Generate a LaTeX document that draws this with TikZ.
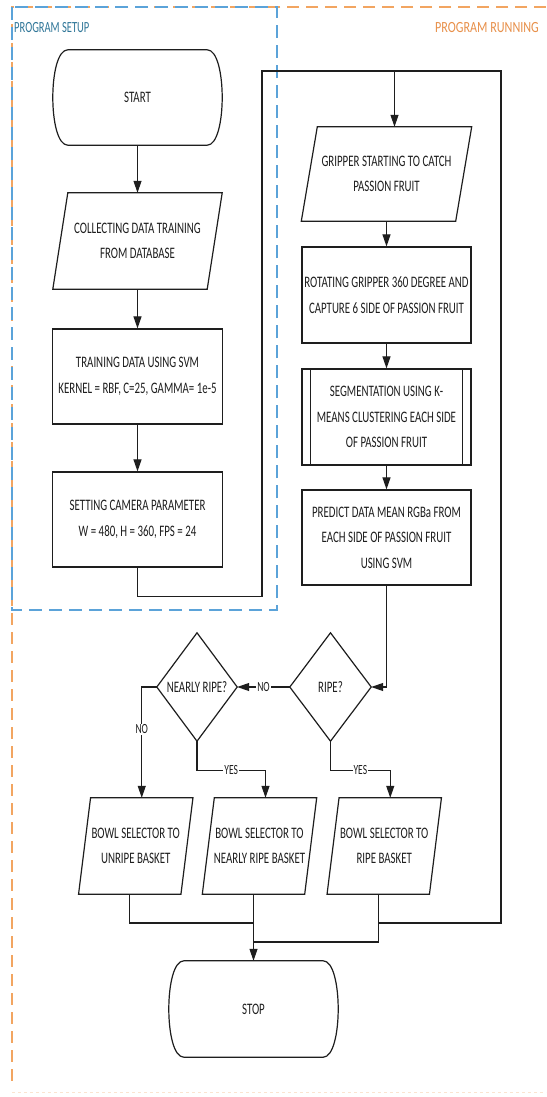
\documentclass[tikz,border=0pt]{standalone}
\usepackage{fontspec}
\setmainfont{Carlito}[FakeStretch=0.68]
\usetikzlibrary{arrows.meta}
\definecolor{setupblue}{HTML}{5BA3D9}
\definecolor{runorange}{HTML}{F2A561}
\definecolor{setuptext}{HTML}{2F7698}
\definecolor{runtext}{HTML}{E8904A}
\definecolor{ink}{HTML}{1E1E1E}
\newcommand\boxfont{\fontsize{16}{25.5}\selectfont}
\newcommand\lblfont{\fontsize{14}{15}\selectfont}
\newcommand\titlefont{\fontsize{15.5}{16}\selectfont}
\newcommand\paradraw[2]{\draw[shapeline] ([xshift=#2]#1.north west) -- ([xshift=#2]#1.north east) -- ([xshift=-#2]#1.south east) -- ([xshift=-#2]#1.south west) -- cycle;}
\newcommand\termdraw[1]{\draw[shapeline] (#1.north west) -- (#1.north east) .. controls +(20,0) and +(20,0) .. (#1.south east) -- (#1.south west) .. controls +(-20,0) and +(-20,0) .. (#1.north west) -- cycle;}
\newcommand\diamdraw[1]{\draw[shapeline] (#1.north) -- (#1.east) -- (#1.south) -- (#1.west) -- cycle;}
\tikzset{
  shapeline/.style={draw=ink, line width=1.2pt, line join=miter},
  ghost/.style={rectangle, inner sep=0pt, align=center, font=\boxfont, text=ink},
  box/.style={ghost, draw=ink, line width=1.2pt},
  flow/.style={draw=ink, line width=1.1pt},
  arrow/.style={flow, -{Triangle[length=12pt,width=8pt]}},
  lbl/.style={fill=white, inner sep=1pt, font=\lblfont, text=ink},
}
\begin{document}
\begin{tikzpicture}[x=1pt,y=-1pt]
\useasboundingbox (0,0) rectangle (546,1097);
\fill[white] (0,0) rectangle (546,1097);
% frames
\draw[runorange, line width=1.5pt, dash pattern=on 12pt off 7pt] (546,7) -- (12,7) -- (12,1085);
\draw[runorange!30, line width=1pt, dash pattern=on 3pt off 3pt] (12,1092) -- (546,1092);
\draw[setupblue, line width=1.5pt, dash pattern=on 13pt off 7pt] (12,7) rectangle (277,610);
\node[anchor=west, text=setuptext, font=\titlefont, inner sep=0pt] (setup) at (14,28) {PROGRAM SETUP};
\node[anchor=west, text=runtext, font=\titlefont, inner sep=0pt] (run) at (435,28) {\scalebox{1.15}[1]{PROGRAM RUNNING}};
% left column
\node[ghost, minimum width=139, minimum height=95] (start) at (137.5,97.5) {START};
\termdraw{start}
\node[ghost, minimum width=154, minimum height=96] (collect) at (137.5,241) {COLLECTING DATA TRAINING\\FROM DATABASE};
\paradraw{collect}{7.5}
\node[box, minimum width=170, minimum height=95] (train) at (137.5,376.5) {TRAINING DATA USING SVM\\KERNEL = RBF, C=25, GAMMA= 1e-5};
\node[box, minimum width=170, minimum height=95] (camera) at (137.5,519.5) {SETTING CAMERA PARAMETER\\W = 480, H = 360, FPS = 24};
% right column
\node[ghost, minimum width=154, minimum height=94] (grip) at (386.5,174) {GRIPPER STARTING TO CATCH\\PASSION FRUIT};
\paradraw{grip}{8}
\node[box, minimum width=169, minimum height=96] (rot) at (386.5,295) {ROTATING GRIPPER 360 DEGREE AND\\CAPTURE 6 SIDE OF PASSION FRUIT};
\node[box, minimum width=169, minimum height=96] (seg) at (386.5,417) {SEGMENTATION USING K-\\MEANS CLUSTERING EACH SIDE\\OF PASSION FRUIT};
\draw[shapeline] ([xshift=9]seg.north west) -- ([xshift=9]seg.south west);
\draw[shapeline] ([xshift=-9]seg.north east) -- ([xshift=-9]seg.south east);
\node[box, minimum width=169, minimum height=95] (pred) at (386.5,537.5) {PREDICT DATA MEAN RGBa FROM\\EACH SIDE OF PASSION FRUIT\\USING SVM};
% decisions
\node[ghost, minimum width=81, minimum height=108] (ripe) at (330.5,687) {RIPE?};
\diamdraw{ripe}
\node[ghost, minimum width=80, minimum height=108] (nearly) at (197,687) {NEARLY RIPE?};
\diamdraw{nearly}
% baskets
\node[ghost, minimum width=102, minimum height=96] (bunripe) at (135.75,846) {BOWL SELECTOR TO\\UNRIPE BASKET};
\paradraw{bunripe}{6}
\node[ghost, minimum width=102, minimum height=96] (bnearly) at (259.5,846) {BOWL SELECTOR TO\\NEARLY RIPE BASKET};
\paradraw{bnearly}{6}
\node[ghost, minimum width=102, minimum height=96] (bripe) at (384.25,846) {BOWL SELECTOR TO\\RIPE BASKET};
\paradraw{bripe}{6}
\node[ghost, minimum width=139, minimum height=96] (stop) at (253.5,1009) {STOP};
\termdraw{stop}
% connectors
\coordinate (jtop) at (394.5,71);
\coordinate (jright) at (501,923);
\coordinate (jbot) at (253.5,923);
\coordinate (jbot2) at (253.5,942);
\draw[arrow] (start.south) -- (collect.north);
\draw[arrow] (collect.south) -- (train.north);
\draw[arrow] (train.south) -- (camera.north);
\draw[flow] (camera.south) -- ++(0,29) -| (262,71) -- (jtop);
\draw[arrow] (jtop) -- ([xshift=8]grip.north);
\draw[arrow] (grip.south) -- (rot.north);
\draw[arrow] (rot.south) -- (seg.north);
\draw[arrow] (seg.south) -- (pred.north);
\draw[arrow] (pred.south) |- (ripe.east);
\draw[arrow] (ripe.west) -- node[lbl]{NO} (nearly.east);
\draw[arrow] (nearly.west) -| node[lbl, pos=0.69]{NO} ([xshift=6]bunripe.north);
\draw[arrow] (nearly.south) -- ++(0,29) -| node[lbl, pos=0.25]{YES} ([xshift=6]bnearly.north);
\draw[arrow] (ripe.south) -- ++(0,29) -| node[lbl, pos=0.25]{YES} ([xshift=6]bripe.north);
\draw[flow] ([xshift=-6]bunripe.south) |- (jbot);
\draw[arrow] ([xshift=-6]bnearly.south) -- (stop.north);
\draw[flow] ([xshift=-6]bripe.south) |- (jbot2);
\draw[flow] ([xshift=-6]bripe.south |- jright) -- (jright) -- (501,71) -- (jtop);
\end{tikzpicture}
\end{document}
